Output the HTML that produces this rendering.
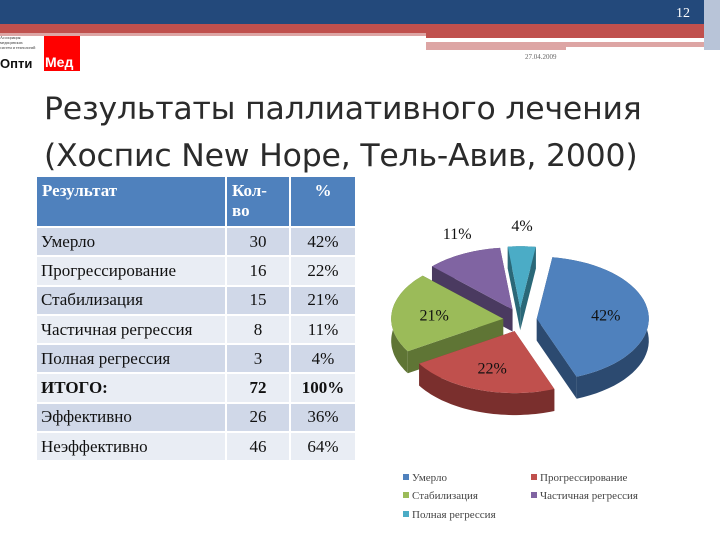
<!DOCTYPE html>
<html><head><meta charset="utf-8">
<style>
body{margin:0;width:720px;height:540px;background:#fff;position:relative;overflow:hidden;font-family:"Liberation Serif",serif}
.abs{position:absolute}
table{border-collapse:separate;border-spacing:2px;position:absolute;left:35px;top:175px;font-family:"Liberation Serif",serif;font-size:17px;color:#111}
td{padding:0 4px;height:27.3px}
th{background:#4f81bd;color:#fff;text-align:left;vertical-align:top;font-weight:bold;padding:4px 5px;height:41px}
tr.a td{background:#d0d8e8}
tr.b td{background:#e9edf4}
td.n{text-align:center}
</style></head><body>
<div class="abs" style="left:0;top:0;width:720px;height:24px;background:#23497b"></div>
<div class="abs" style="left:0;top:24px;width:720px;height:9px;background:#c0504d"></div>
<div class="abs" style="left:0;top:33px;width:720px;height:3px;background:#dda5a4"></div>
<div class="abs" style="left:426px;top:33px;width:294px;height:5px;background:#c0504d"></div>
<div class="abs" style="left:426px;top:42px;width:290px;height:5px;background:#dda5a4"></div>
<div class="abs" style="left:426px;top:47px;width:140px;height:3px;background:#dda5a4"></div>
<div class="abs" style="left:704px;top:0;width:16px;height:50px;background:#b8c4d8"></div>
<div class="abs" style="left:676px;top:6px;color:#fff;font-size:14px">12</div>
<div class="abs" style="left:0;top:35px;font-size:4px;line-height:5px;color:#333">Ассоциация<br>медицинских<br>систем и технологий</div>
<div class="abs" style="left:44px;top:36px;width:36px;height:35px;background:#f00"></div>
<div class="abs" style="left:0;top:56px;font:bold 13px 'Liberation Sans',sans-serif;color:#111">Опти</div>
<div class="abs" style="left:45px;top:54px;font:bold 14px 'Liberation Sans',sans-serif;color:#fff">Мед</div>
<div class="abs" style="left:525px;top:53px;font-size:7px;color:#666">27.04.2009</div>
<div class="abs" style="left:44px;top:86px;font:31.5px 'DejaVu Sans',sans-serif;line-height:47px;color:#2b2b2b;letter-spacing:-0.2px;white-space:nowrap">Результаты паллиативного лечения<br>(Хоспис New Hope, Тель-Авив, 2000)</div>

<table>
<tr><th style="width:178px">Результат</th><th style="width:52px">Кол-<br>во</th><th style="width:54px;text-align:center">%</th></tr>
<tr class="a"><td>Умерло</td><td class="n">30</td><td class="n">42%</td></tr>
<tr class="b"><td>Прогрессирование</td><td class="n">16</td><td class="n">22%</td></tr>
<tr class="a"><td>Стабилизация</td><td class="n">15</td><td class="n">21%</td></tr>
<tr class="b"><td>Частичная регрессия</td><td class="n">8</td><td class="n">11%</td></tr>
<tr class="a"><td>Полная регрессия</td><td class="n">3</td><td class="n">4%</td></tr>
<tr class="b"><td><b>ИТОГО:</b></td><td class="n"><b>72</b></td><td class="n"><b>100%</b></td></tr>
<tr class="a"><td>Эффективно</td><td class="n">26</td><td class="n">36%</td></tr>
<tr class="b"><td>Неэффективно</td><td class="n">46</td><td class="n">64%</td></tr>
</table>

<svg id="pie" class="abs" style="left:0;top:0" width="720" height="540"></svg>
<script>
const categories=["Умерло","Прогрессирование","Стабилизация","Частичная регрессия","Полная регрессия"];
const values=[42,22,21,11,4];
const labels=["42%","22%","21%","11%","4%"];
const colors=["#4f81bd","#c0504d","#9bbb59","#8064a2","#4bacc6"];
const darks=["#2c4a70","#7a2f2d","#5f7535","#4a3a60","#2a6878"];
const svg=document.getElementById('pie');
const NS="http://www.w3.org/2000/svg";
const cx=520,cy=320,rx=112,ry=62,depth=22,expl=13,start=8;
const total=values.reduce((a,b)=>a+b,0);
function pt(x0,y0,a,dy){const r=a*Math.PI/180;return [x0+rx*Math.sin(r),y0-ry*Math.cos(r)+(dy||0)];}
let acc=start;const sl=[];
values.forEach((v,i)=>{const a0=acc,a1=acc+v/total*360;acc=a1;const m=(a0+a1)/2*Math.PI/180;
sl.push({i,a0,a1,ox:cx+expl*Math.sin(m)*1.3,oy:cy-expl*Math.cos(m)*0.9,mid:(a0+a1)/2});});
function mk(tag,at){const e=document.createElementNS(NS,tag);for(const k in at)e.setAttribute(k,at[k]);svg.appendChild(e);return e;}
function arc(x0,y0,a0,a1,dy,rev){let d="";const n=40;for(let k=0;k<=n;k++){const a=rev?a1-(a1-a0)*k/n:a0+(a1-a0)*k/n;const p=pt(x0,y0,a,dy);d+=(k?"L":"")+p[0].toFixed(1)+","+p[1].toFixed(1);}return d;}
const order=sl.slice().sort((p,q)=>-Math.cos(p.mid*Math.PI/180)+Math.cos(q.mid*Math.PI/180));
order.forEach(s=>{
 const c=colors[s.i],dk=darks[s.i];
 [s.a0,s.a1].forEach(a=>{const p=pt(s.ox,s.oy,a);
  const w=mk('path',{d:`M${s.ox},${s.oy}L${p[0]},${p[1]}L${p[0]},${p[1]+depth}L${s.ox},${s.oy+depth}Z`,fill:dk});
  
  });
 const rim=mk('path',{d:"M"+arc(s.ox,s.oy,s.a0,s.a1,0,false)+"L"+arc(s.ox,s.oy,s.a0,s.a1,depth,true)+"Z",fill:dk});
 
 
 const top=mk('path',{d:`M${s.ox},${s.oy}L`+arc(s.ox,s.oy,s.a0,s.a1,0,false)+"Z",fill:c});
 
 
});
sl.forEach(s=>{const r=s.mid*Math.PI/180;const f=s.i>=3?1.12:0.62;
 const x=s.ox+rx*f*Math.sin(r),y=s.oy-ry*f*Math.cos(r)+(s.i>=3?-8:6);
 const t=mk('text',{x:x,y:y,'text-anchor':'middle','font-family':'Liberation Serif,serif','font-size':'16',fill:'#111'});
 t.textContent=labels[s.i];
 
 });
const lp=[[403,481],[531,481],[403,499],[531,499],[403,518]];
categories.forEach((c,i)=>{
 const r=mk('rect',{x:lp[i][0],y:lp[i][1]-7,width:6,height:6,fill:colors[i]});
 
 
 const t=mk('text',{x:lp[i][0]+9,y:lp[i][1],'font-family':'Liberation Serif,serif','font-size':'11',fill:'#444'});
 t.textContent=c;
 
 });
</script>
</body></html>
